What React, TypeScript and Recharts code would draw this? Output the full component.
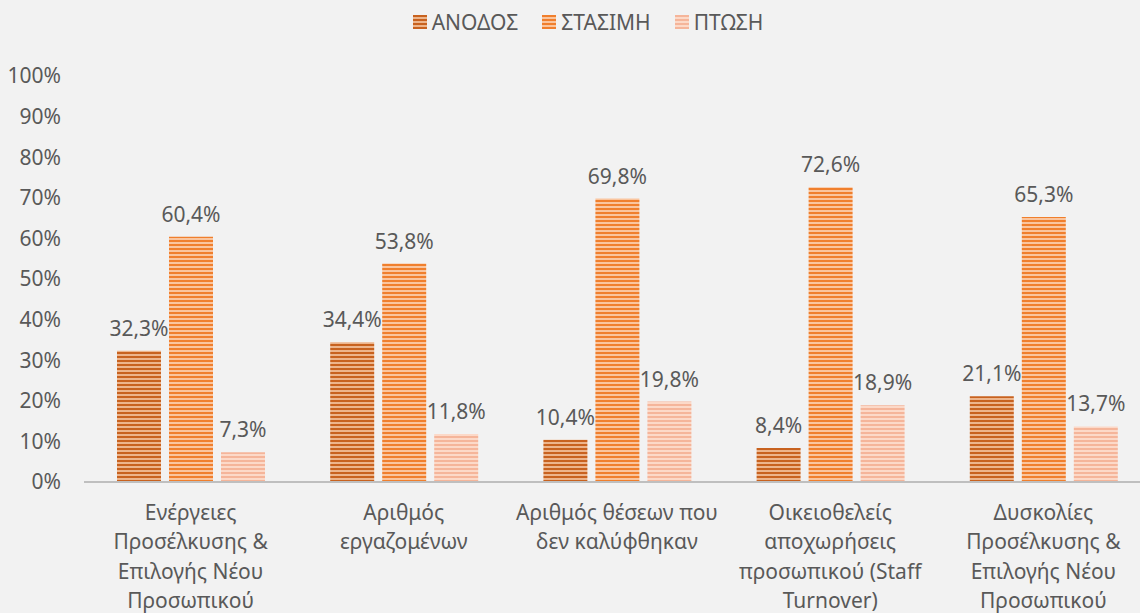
import { BarChart, Bar, XAxis, YAxis, LabelList } from "recharts";

const categories = [
  "Ενέργειες\nΠροσέλκυσης &\nΕπιλογής Νέου\nΠροσωπικού",
  "Αριθμός\nεργαζομένων",
  "Αριθμός θέσεων που\nδεν καλύφθηκαν",
  "Οικειοθελείς\nαποχωρήσεις\nπροσωπικού (Staff\nTurnover)",
  "Δυσκολίες\nΠροσέλκυσης &\nΕπιλογής Νέου\nΠροσωπικού",
];

const anodos = [32.3, 34.4, 10.4, 8.4, 21.1];
const stasimi = [60.4, 53.8, 69.8, 72.6, 65.3];
const ptosi = [7.3, 11.8, 19.8, 18.9, 13.7];

const yTicks = [0, 10, 20, 30, 40, 50, 60, 70, 80, 90, 100];

const series = [
  { key: "anodos", name: "ΑΝΟΔΟΣ", dark: "#C8621F", light: "#EDB58C" },
  { key: "stasimi", name: "ΣΤΑΣΙΜΗ", dark: "#F07F2D", light: "#FAC59E" },
  { key: "ptosi", name: "ΠΤΩΣΗ", dark: "#F5B59A", light: "#FCD9C8" },
];

const data = categories.map((c, i) => ({
  name: c,
  anodos: anodos[i],
  stasimi: stasimi[i],
  ptosi: ptosi[i],
}));

const FONT = "'Noto Sans', sans-serif";
const TEXT = "#595959";
const FS = 21;

const fmt = (v: number) => v.toFixed(1).replace(".", ",") + "%";

function CategoryTick(props: any) {
  const { x, y, payload } = props;
  const lines = String(payload.value).split("\n");
  return (
    <text x={x} y={y} textAnchor="middle" fill={TEXT} fontSize={FS} fontFamily={FONT}>
      {lines.map((l, i) => (
        <tspan key={i} x={x} y={y + 30 + i * 29.3}>
          {l}
        </tspan>
      ))}
    </text>
  );
}

function LegendBox() {
  return (
    <div
      style={{
        position: "absolute",
        top: 8,
        left: 18,
        width: 1140,
        display: "flex",
        justifyContent: "center",
        gap: 24,
        fontFamily: FONT,
        fontSize: FS,
        color: TEXT,
        zIndex: 2,
      }}
    >
      {series.map((s) => (
        <div key={s.key} style={{ display: "flex", alignItems: "center" }}>
          <svg width={14} height={14} style={{ marginRight: 5 }}>
            <rect width={14} height={14} fill={`url(#pat-${s.key})`} />
          </svg>
          <span>{s.name}</span>
        </div>
      ))}
    </div>
  );
}

export default function App() {
  return (
    <div style={{ position: "absolute", left: 0, top: 0, width: 1140, height: 613, overflow: "hidden", background: "#F2F2F2" }}>
      <LegendBox />
      <BarChart
        width={1160}
        height={613}
        data={data}
        margin={{ top: 76, right: 10, bottom: 0, left: 0 }}
        barCategoryGap={33}
        barGap={8}
      >
        <defs>
          {series.map((s) => (
            <pattern key={s.key} id={`pat-${s.key}`} patternUnits="userSpaceOnUse" width={4} height={4}>
              <rect width={4} height={4} fill={s.light} />
              <rect width={4} height={2} fill={s.dark} />
            </pattern>
          ))}
        </defs>
        <XAxis
          dataKey="name"
          interval={0}
          height={131}
          tickLine={false}
          axisLine={{ stroke: "#BFBFBF", strokeWidth: 2 }}
          tick={<CategoryTick />}
        />
        <YAxis
          type="number"
          domain={[0, 100]}
          ticks={yTicks}
          width={84}
          axisLine={false}
          tickLine={false}
          tickSize={0}
          tickMargin={23}
          tickFormatter={(v: number) => v + "%"}
          tick={{ fill: TEXT, fontSize: FS, fontFamily: FONT }}
        />
        {series.map((s) => (
          <Bar key={s.key} dataKey={s.key} name={s.name} fill={`url(#pat-${s.key})`} isAnimationActive={false}>
            <LabelList
              dataKey={s.key}
              position="top"
              offset={15}
              formatter={(v: any) => fmt(Number(v))}
              fill={TEXT}
              fontSize={FS}
              fontFamily={FONT}
            />
          </Bar>
        ))}
      </BarChart>
    </div>
  );
}
